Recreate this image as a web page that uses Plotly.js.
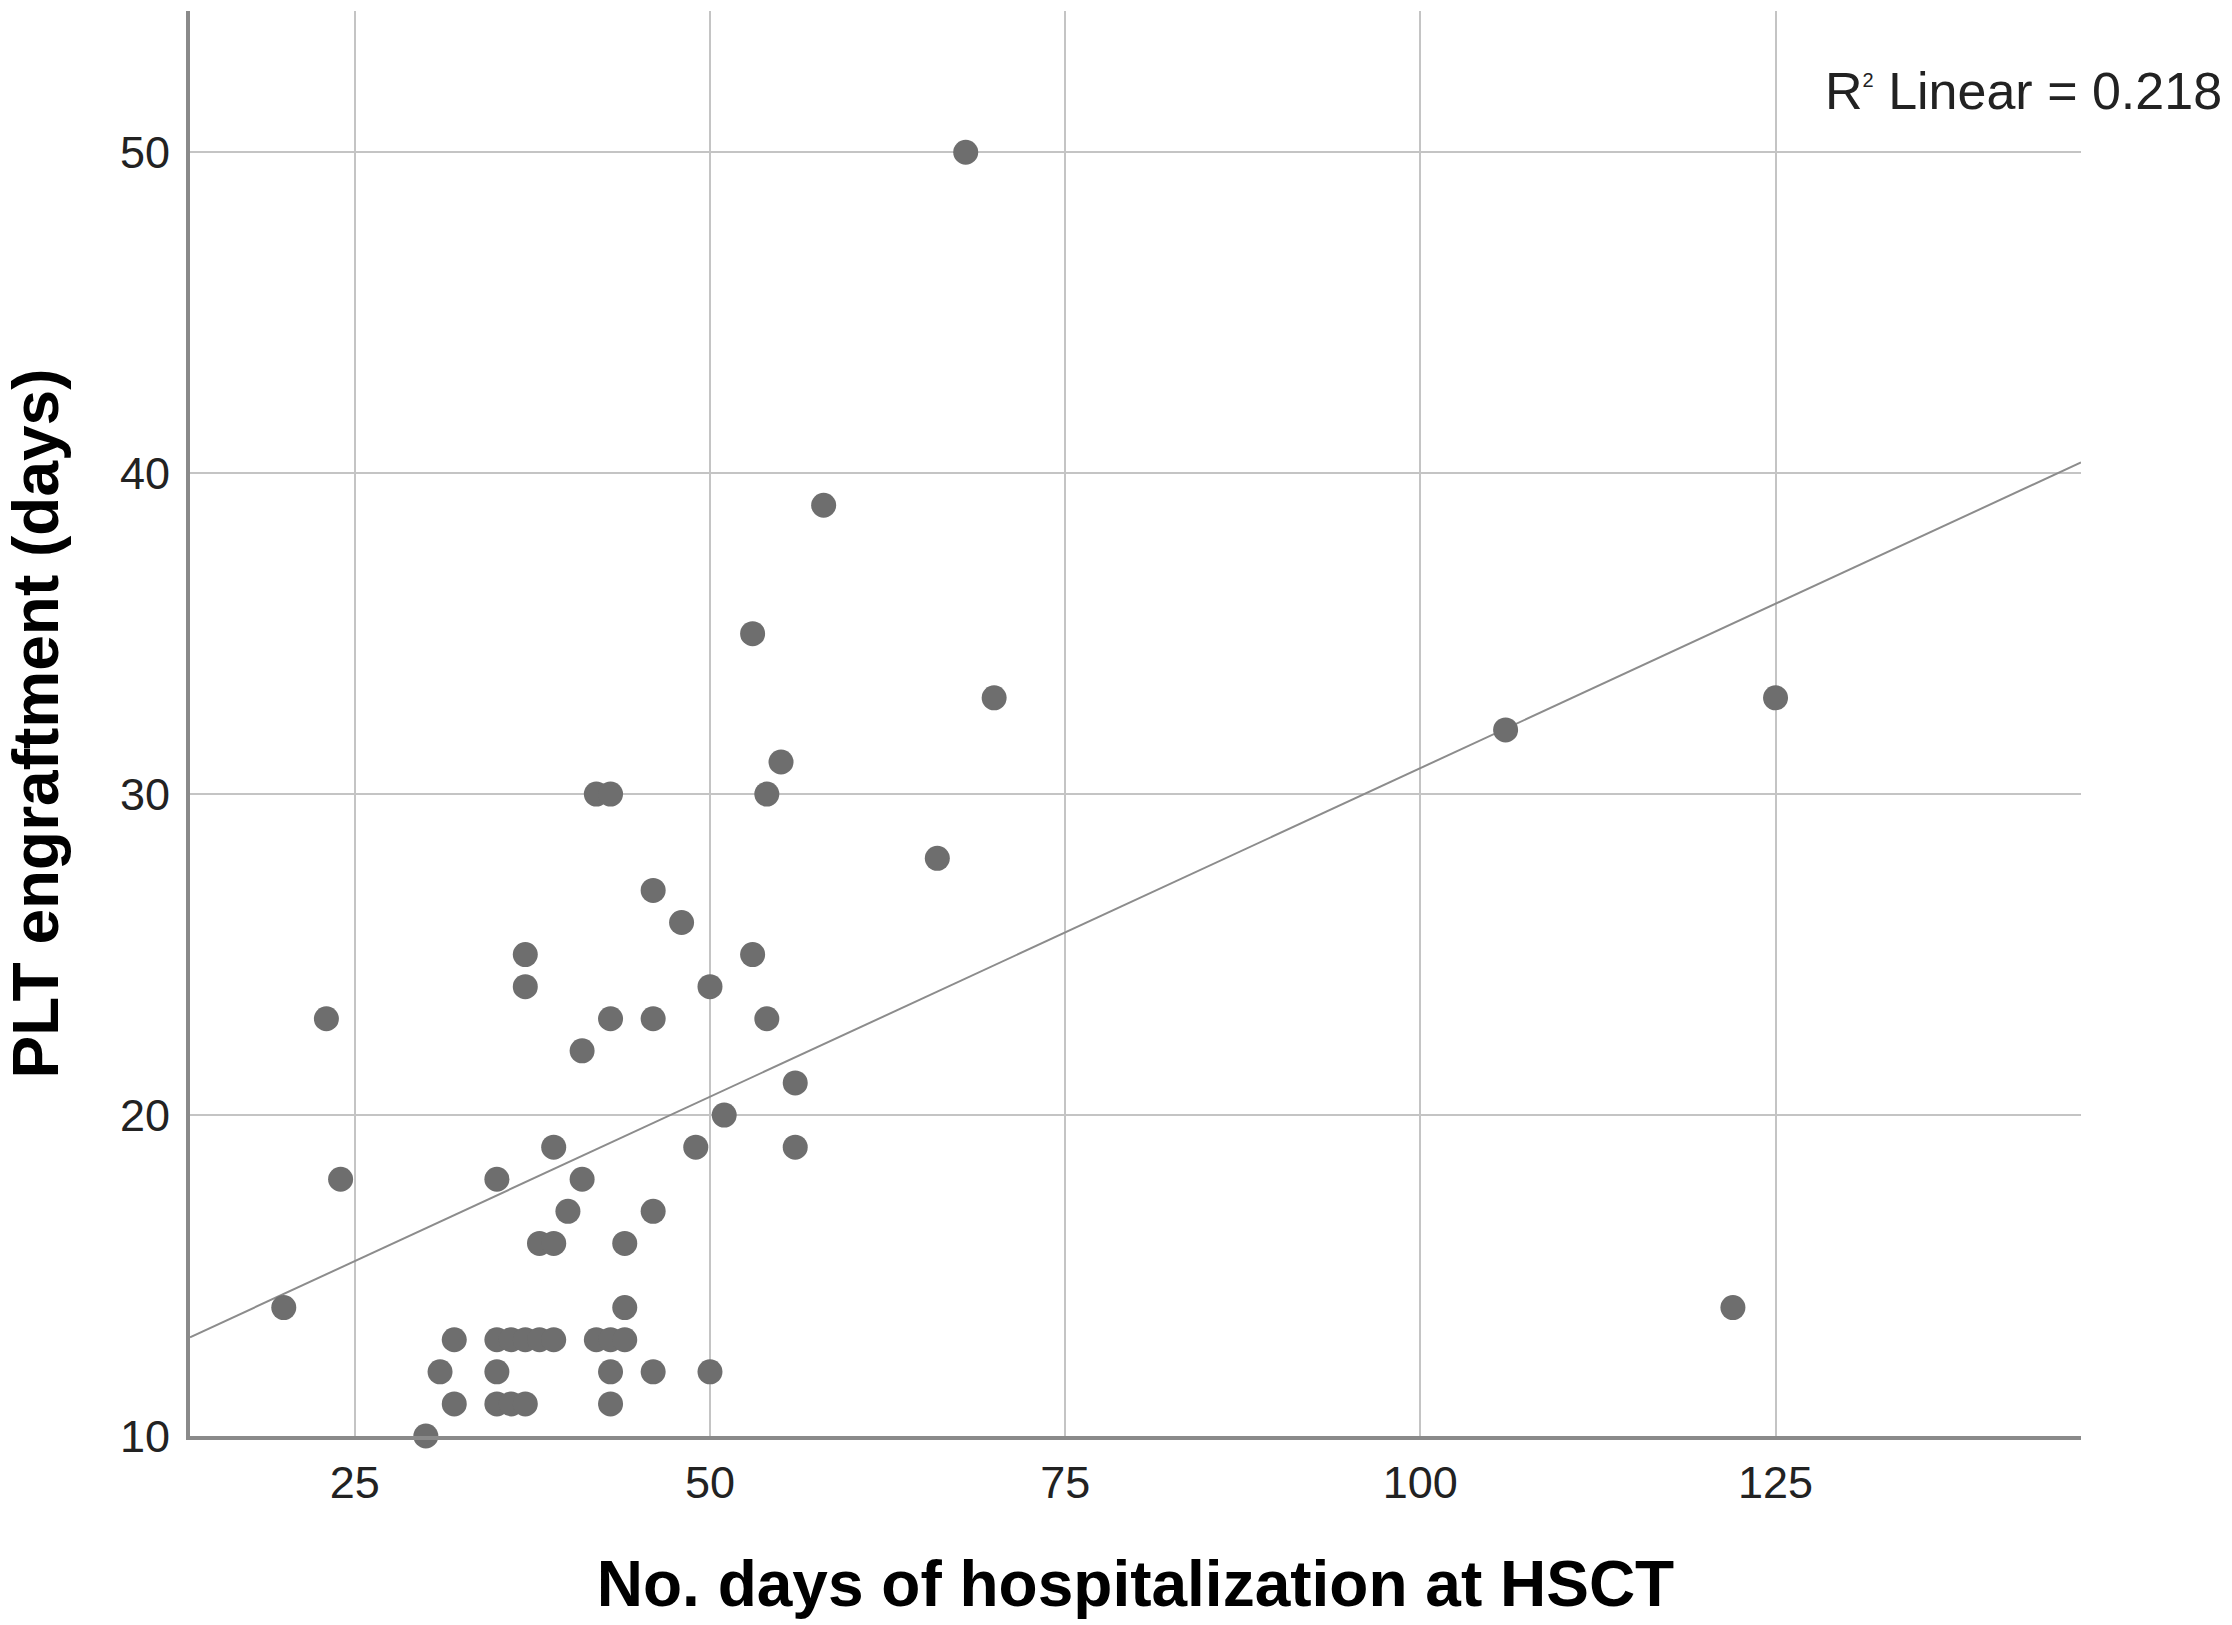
<!DOCTYPE html>
<html>
<head>
<meta charset="utf-8">
<script src="https://cdn.plot.ly/plotly-3.0.1.min.js"></script>
<style>
  html, body { margin: 0; padding: 0; background: #ffffff; }
  #chart { width: 2232px; height: 1625px; }
</style>
</head>
<body>
<div id="chart"></div>
<script>
// Data
const hospDays = [20, 23, 24, 30, 31, 32, 32, 35, 35, 36, 37, 38, 39, 35, 35, 36, 37,
                  42, 43, 44, 43, 43, 46, 50, 44, 38, 39, 44, 40, 46, 39, 41, 49, 56,
                  51, 56, 41, 43, 46, 54, 37, 50, 37, 53, 48, 46, 66, 42, 43, 54, 55,
                  70, 53, 58, 68, 106, 125, 122];
const pltDays  = [14, 23, 18, 10, 12, 13, 11, 18, 13, 13, 13, 13, 13, 12, 11, 11, 11,
                  13, 13, 13, 12, 11, 12, 12, 14, 16, 16, 16, 17, 17, 19, 18, 19, 19,
                  20, 21, 22, 23, 23, 23, 24, 24, 25, 25, 26, 27, 28, 30, 30, 30, 31,
                  33, 35, 39, 50, 32, 33, 14];

// Linear fit line (as drawn in the reference)
const fitIntercept = 10.33;
const fitSlope = 0.2048;
const rSquaredText = '0.218';

const xRange = [13.4, 146.5];
const yRange = [10, 54.4];
const xTickVals = [25, 50, 75, 100, 125];
const yTickVals = [10, 20, 30, 40, 50];

const fitX = xRange.slice();
const fitY = fitX.map(v => fitIntercept + fitSlope * v);

const FONT = '"Liberation Sans", Arial, sans-serif';

const traces = [
  {
    x: fitX, y: fitY, type: 'scatter', mode: 'lines',
    line: { color: '#8c8c8c', width: 2 },
    hoverinfo: 'skip', showlegend: false, cliponaxis: true
  },
  {
    x: hospDays, y: pltDays, type: 'scatter', mode: 'markers',
    marker: { color: '#6e6e6e', size: 25, line: { width: 0 } },
    showlegend: false, cliponaxis: false
  }
];

const layout = {
  width: 2232, height: 1625,
  margin: { l: 190, r: 151, t: 11, b: 189, pad: 0 },
  paper_bgcolor: '#ffffff', plot_bgcolor: '#ffffff',
  font: { family: FONT, color: '#222222' },
  showlegend: false,
  xaxis: {
    range: xRange, tickvals: xTickVals, ticktext: xTickVals.map(String),
    showgrid: true, gridcolor: '#c4c4c4', gridwidth: 2,
    zeroline: false, showline: true, linecolor: '#8a8a8a', linewidth: 4,
    ticks: '', ticklabelstandoff: 4,
    tickfont: { family: FONT, size: 45, color: '#222222' },
    title: { text: 'No. days of hospitalization at HSCT', standoff: 55,
             font: { family: FONT, size: 64, color: '#000000', weight: 'bold' } },
    automargin: false
  },
  yaxis: {
    range: yRange, tickvals: yTickVals, ticktext: yTickVals.map(String),
    showgrid: true, gridcolor: '#c4c4c4', gridwidth: 2,
    zeroline: false, showline: true, linecolor: '#8a8a8a', linewidth: 4,
    ticks: '', ticklabelstandoff: 7,
    tickfont: { family: FONT, size: 45, color: '#222222' },
    title: { text: 'PLT engraftment (days)', standoff: 43,
             font: { family: FONT, size: 64, color: '#000000', weight: 'bold' } },
    automargin: false
  },
  annotations: [
    {
      xref: 'paper', yref: 'paper', x: 1.0756, y: 0.944,
      xanchor: 'right', yanchor: 'middle', showarrow: false,
      text: 'R<sup><span style="font-size:20px">2</span></sup> Linear = ' + rSquaredText,
      font: { family: FONT, size: 52, color: '#222222' }
    }
  ]
};

Plotly.newPlot('chart', traces, layout, { staticPlot: true, displayModeBar: false });
</script>
</body>
</html>
